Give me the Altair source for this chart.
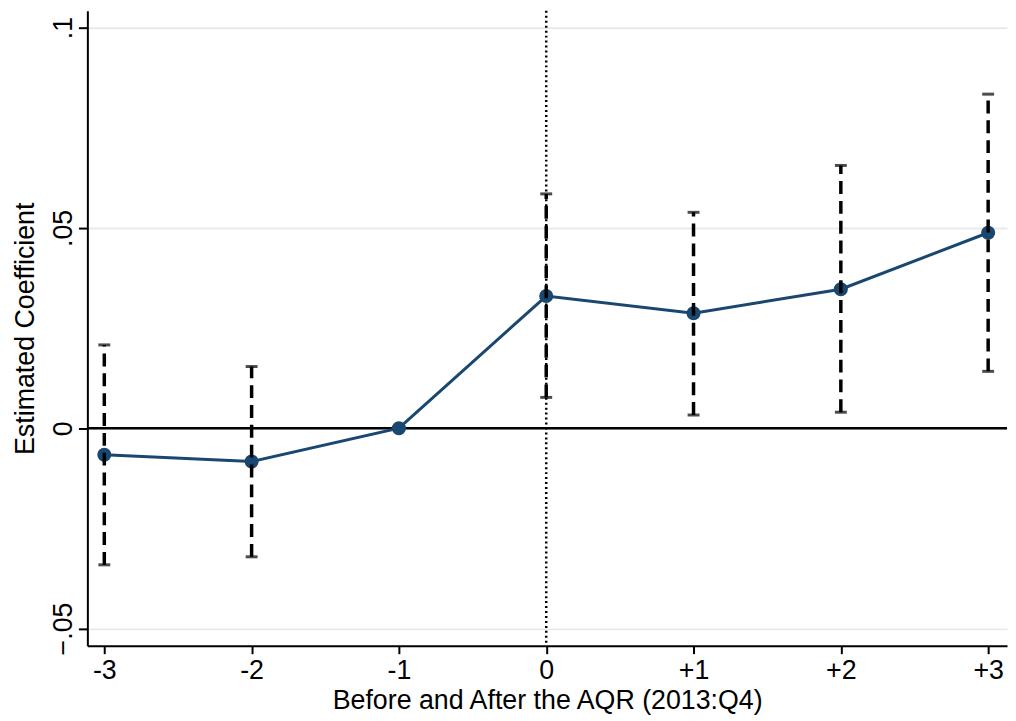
import altair as alt
import pandas as pd

# ---- data ----
periods = [-3, -2, -1, 0, 1, 2, 3]
coef = [-0.0066, -0.0083, 0.0, 0.0330, 0.0287, 0.0347, 0.0488]
ci_periods = [-3, -2, 0, 1, 2, 3]
ci_low = [-0.0341, -0.0321, 0.0077, 0.0033, 0.0040, 0.0142]
ci_high = [0.0208, 0.0154, 0.0585, 0.0539, 0.0656, 0.0834]
x_ticks = [-3, -2, -1, 0, 1, 2, 3]
y_ticks = [-0.05, 0, 0.05, 0.1]
event_period = [0]
zero_level = [0]
x_title = "Before and After the AQR (2013:Q4)"
y_title = "Estimated Coefficient"

pts = pd.DataFrame({"period": periods, "coef": coef})
ci = pd.DataFrame({"period": ci_periods, "lo": ci_low, "hi": ci_high})
vline = pd.DataFrame({"period": event_period})
hline = pd.DataFrame({"coef": zero_level})

FONT = "Liberation Sans"
NAVY = "#1a476f"
FS = 27

x_scale = alt.Scale(domain=[-3.115, 3.128], nice=False, zero=False)
y_scale = alt.Scale(domain=[-0.0543, 0.1042], nice=False, zero=False)

x_axis = alt.Axis(
    values=x_ticks,
    labelExpr="datum.value > 0 ? '+' + datum.value : '' + datum.value",
    title=x_title,
    grid=False,
    domainColor="black", domainWidth=2,
    tickColor="black", tickWidth=2, tickSize=8,
    labelFont=FONT, labelFontSize=FS, labelColor="black",
    labelPadding=4, labelFlush=False, labelOverlap=False,
    titleFont=FONT, titleFontSize=FS, titleFontWeight="normal",
    titleColor="black", titlePadding=4,
)

y_axis = alt.Axis(
    values=y_ticks,
    labelExpr="datum.value == 0 ? '0' : replace(format(datum.value, '.2~f'), '0.', '.')",
    title=y_title,
    grid=True, gridColor="#e9e9e9", gridWidth=2,
    domainColor="black", domainWidth=2,
    tickColor="black", tickWidth=2, tickSize=9,
    labelFont=FONT, labelFontSize=FS, labelColor="black",
    labelAngle=270, labelAlign="center", labelBaseline="alphabetic",
    labelPadding=7, labelFlush=False, labelOverlap=False,
    titleFont=FONT, titleFontSize=FS, titleFontWeight="normal",
    titleColor="black", titleAngle=270, titleAlign="center",
    titleBaseline="alphabetic", titleX=-54, titleY=320,
)

X = alt.X("period:Q", scale=x_scale, axis=x_axis)
Y = alt.Y("coef:Q", scale=y_scale, axis=y_axis)

zero_rule = alt.Chart(hline).mark_rule(color="black", strokeWidth=2.5).encode(y=Y)

event_rule = alt.Chart(vline).mark_rule(
    color="black", strokeWidth=2.5, strokeDash=[2, 3]
).encode(x=X)

line = alt.Chart(pts).mark_line(color=NAVY, strokeWidth=3).encode(x=X, y=Y)

points = alt.Chart(pts).mark_circle(color=NAVY, opacity=1, size=200).encode(x=X, y=Y)

bars = alt.Chart(ci).mark_rule(
    color="black", strokeWidth=3.5, strokeDash=[13, 7]
).encode(
    x=X,
    y=alt.Y("lo:Q", scale=y_scale, axis=y_axis),
    y2="hi:Q",
)

cap_hi = alt.Chart(ci).mark_tick(
    color="black", orient="horizontal", size=12, thickness=3
).encode(x=X, y=alt.Y("hi:Q", scale=y_scale, axis=y_axis))

cap_lo = alt.Chart(ci).mark_tick(
    color="black", orient="horizontal", size=12, thickness=3
).encode(x=X, y=alt.Y("lo:Q", scale=y_scale, axis=y_axis))

chart = alt.layer(
    zero_rule, event_rule, line, points, bars, cap_hi, cap_lo
).properties(
    width=927,
    height=640,
    autosize=alt.AutoSizeParams(type="none"),
    padding={"left": 80, "top": 0, "right": 1, "bottom": 72},
    background="white",
).configure_view(strokeWidth=0)

chart.save("out.html", embed_options={"renderer": "svg", "actions": False})
